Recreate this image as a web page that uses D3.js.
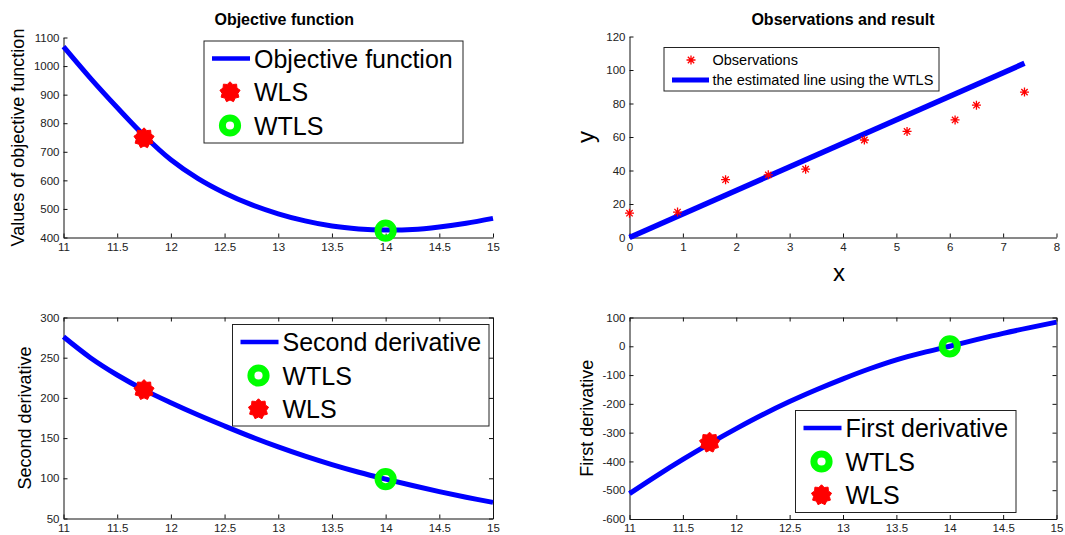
<!DOCTYPE html>
<html>
<head>
    <meta charset="utf-8">
    <title>WLS vs WTLS</title>
    <script src="https://d3js.org/d3.v7.min.js"></script>
    <style>
        body { margin: 0; background: #fff; }
        svg { font-family: "Liberation Sans", Arial, sans-serif; }
        .tick text { fill: #222; font-size: 11.5px; }
        .tick line, .domain { stroke: #111; }
    </style>
</head>
<body>
    <svg id="fig" width="1065" height="535"></svg>

    <script>
        // parameter values on the x axis of the three function plots
        const params = [11, 11.25, 11.5, 11.75, 12, 12.25, 12.5, 12.75, 13, 13.25, 13.5, 13.75, 14, 14.25, 14.5, 14.75, 15];
        const objective = [1068, 958, 855, 757, 672, 607, 556, 515, 483, 458, 440, 430, 426, 428, 437, 450, 467];
        const secondDeriv = [276, 250, 228.5, 210, 194, 179, 165, 151.5, 139, 127.5, 117, 107.5, 99, 91, 83.5, 76.5, 70];
        const firstDeriv = [-512, -451, -393, -338, -286, -237, -192, -151, -113, -78, -47, -22, 0, 23, 45, 65, 84];

        // estimates marked on each curve
        const wlsParam = 11.75, wtlsParam = 14;
        const wlsValues = { objective: 748, second: 210, first: -334 };
        const wtlsValues = { objective: 424, second: 99, first: 0 };

        // observations and the fitted WTLS line
        const obsX = [0, 0.9, 1.8, 2.6, 3.3, 4.4, 5.2, 6.1, 6.5, 7.4];
        const obsY = [14.5, 15.2, 34.5, 37.4, 40.8, 58.2, 63.3, 70.2, 79, 86.8];
        const fitX = [0, 7.4];
        const fitY = [0, 104];

        // tick labels
        const paramTicks = [11, 11.5, 12, 12.5, 13, 13.5, 14, 14.5, 15];
        const objTicks = [400, 500, 600, 700, 800, 900, 1000, 1100];
        const obsXTicks = [0, 1, 2, 3, 4, 5, 6, 7, 8];
        const obsYTicks = [0, 20, 40, 60, 80, 100, 120];
        const secondTicks = [50, 100, 150, 200, 250, 300];
        const firstTicks = [-600, -500, -400, -300, -200, -100, 0, 100];

        const svg = d3.select("#fig");
        const blue = "#0000ff", red = "#ff0000", green = "#00ff00";
        const fmt = d => String(d); // plain "-" and no thousands comma, like matlab

        // serrated star, roughly what matlab's hexagram looks like at this size
        const gear = {
            draw(ctx, size) {
                const r = Math.sqrt(size / Math.PI), n = 9;
                for (let i = 0; i < 2 * n; i++) {
                    const a = i * Math.PI / n - Math.PI / 2;
                    const rr = i % 2 ? r * 0.78 : r;
                    if (i === 0) ctx.moveTo(rr * Math.cos(a), rr * Math.sin(a));
                    else ctx.lineTo(rr * Math.cos(a), rr * Math.sin(a));
                }
                ctx.closePath();
            }
        };

        function drawWls(g, x, y) {
            g.append("path")
                .attr("transform", `translate(${x},${y})`)
                .attr("d", d3.symbol(gear, 330)())
                .attr("fill", red).attr("stroke", red).attr("stroke-width", 1);
        }
        function drawWtls(g, x, y) {
            g.append("circle")
                .attr("cx", x).attr("cy", y).attr("r", 7.6)
                .attr("fill", "none").attr("stroke", green).attr("stroke-width", 7);
        }
        function drawStar(g, x, y, r) {
            const p = d3.path();
            for (let k = 0; k < 4; k++) {
                const a = k * Math.PI / 4;
                p.moveTo(x - r * Math.cos(a), y - r * Math.sin(a));
                p.lineTo(x + r * Math.cos(a), y + r * Math.sin(a));
            }
            g.append("path").attr("d", p.toString()).attr("stroke", red).attr("stroke-width", 1.3);
        }

        function axes(g, x, y, xt, yt, box) {
            const [x0, x1] = x.range(), [y0, y1] = y.range();
            g.append("g").attr("transform", `translate(0,${y0})`)
                .call(d3.axisBottom(x).tickValues(xt).tickFormat(fmt).tickSize(-4).tickSizeOuter(0).tickPadding(5));
            g.append("g").attr("transform", `translate(${x0},0)`)
                .call(d3.axisLeft(y).tickValues(yt).tickFormat(fmt).tickSize(-4).tickSizeOuter(0).tickPadding(4));
            if (box) {
                g.append("g").attr("transform", `translate(0,${y1})`)
                    .call(d3.axisTop(x).tickValues(xt).tickSize(-4).tickSizeOuter(0).tickFormat(""));
                g.append("g").attr("transform", `translate(${x1},0)`)
                    .call(d3.axisRight(y).tickValues(yt).tickSize(-4).tickSizeOuter(0).tickFormat(""));
            }
        }

        function legend(g, box, rows) {
            g.append("rect")
                .attr("x", box.x).attr("y", box.y).attr("width", box.w).attr("height", box.h)
                .attr("fill", "#fff").attr("stroke", "#222").attr("stroke-width", 1);
            rows.forEach((r, i) => {
                const cy = box.y + box.top + i * box.step;
                if (r.kind === "line") {
                    g.append("line").attr("x1", box.x + box.lx0).attr("x2", box.x + box.lx1)
                        .attr("y1", cy).attr("y2", cy).attr("stroke", blue).attr("stroke-width", box.lw);
                } else if (r.kind === "wls") {
                    drawWls(g, box.x + box.mx, cy);
                } else if (r.kind === "wtls") {
                    drawWtls(g, box.x + box.mx, cy);
                } else {
                    drawStar(g, box.x + box.mx, cy, 4.5);
                }
                g.append("text").attr("x", box.x + box.tx).attr("y", cy).attr("dy", "0.36em")
                    .attr("font-size", box.fs).attr("fill", "#000").text(r.label);
            });
        }

        function yLabel(g, x, cy, txt, fs) {
            g.append("text").attr("transform", `translate(${x},${cy}) rotate(-90)`)
                .attr("text-anchor", "middle").attr("font-size", fs).attr("fill", "#000").text(txt);
        }
        function title(g, cx, y, txt) {
            g.append("text").attr("x", cx).attr("y", y).attr("text-anchor", "middle")
                .attr("font-size", 16).attr("font-weight", "bold").attr("fill", "#000").text(txt);
        }

        // ---- function panels ----
        function curvePanel(rect, yDomain, yt, values, wlsY, wtlsY, opts) {
            const g = svg.append("g");
            const x = d3.scaleLinear().domain([11, 15]).range([rect.x0, rect.x1]);
            const y = d3.scaleLinear().domain(yDomain).range([rect.y1, rect.y0]);
            axes(g, x, y, paramTicks, yt, opts.box);

            const line = d3.line().x((d, i) => x(params[i])).y(d => y(d)).curve(d3.curveCatmullRom);
            g.append("path").datum(values).attr("d", line)
                .attr("fill", "none").attr("stroke", blue).attr("stroke-width", 5);

            drawWls(g, x(wlsParam), y(wlsY));
            drawWtls(g, x(wtlsParam), y(wtlsY));

            legend(g, opts.legend, opts.rows);
            yLabel(g, opts.labelX, (rect.y0 + rect.y1) / 2, opts.ylabel, 18);
            if (opts.title) title(g, (rect.x0 + rect.x1) / 2 + 6, 25, opts.title);
        }

        const legendStyle = { top: 17.5, step: 33.5, lx0: 8, lx1: 46, lw: 4.5, mx: 26, tx: 50, fs: 25 };

        curvePanel({ x0: 63.5, x1: 493, y0: 37.5, y1: 237.5 }, [400, 1100], objTicks, objective,
            wlsValues.objective, wtlsValues.objective, {
                box: false, title: "Objective function", ylabel: "Values of objective function", labelX: 24,
                legend: Object.assign({ x: 204, y: 41, w: 259, h: 102 }, legendStyle),
                rows: [{ kind: "line", label: "Objective function" }, { kind: "wls", label: "WLS" }, { kind: "wtls", label: "WTLS" }]
            });

        curvePanel({ x0: 63.5, x1: 493, y0: 317.5, y1: 518.5 }, [50, 300], secondTicks, secondDeriv,
            wlsValues.second, wtlsValues.second, {
                box: true, ylabel: "Second derivative", labelX: 31,
                legend: Object.assign({ x: 232.5, y: 324.5, w: 256.5, h: 101.5 }, legendStyle),
                rows: [{ kind: "line", label: "Second derivative" }, { kind: "wtls", label: "WTLS" }, { kind: "wls", label: "WLS" }]
            });

        curvePanel({ x0: 629.5, x1: 1056.5, y0: 317.5, y1: 519 }, [-600, 100], firstTicks, firstDeriv,
            wlsValues.first, wtlsValues.first, {
                box: true, ylabel: "First derivative", labelX: 593,
                legend: Object.assign({ x: 795.5, y: 410.5, w: 220.5, h: 102 }, legendStyle),
                rows: [{ kind: "line", label: "First derivative" }, { kind: "wtls", label: "WTLS" }, { kind: "wls", label: "WLS" }]
            });

        // ---- observations panel ----
        {
            const g = svg.append("g");
            const x = d3.scaleLinear().domain([0, 8]).range([629.5, 1056.5]);
            const y = d3.scaleLinear().domain([0, 120]).range([237.5, 36.5]);
            axes(g, x, y, obsXTicks, obsYTicks, false);

            g.append("path").datum(fitX.map((d, i) => [d, fitY[i]]))
                .attr("d", d3.line().x(d => x(d[0])).y(d => y(d[1])))
                .attr("stroke", blue).attr("stroke-width", 5.5).attr("fill", "none");
            obsX.forEach((d, i) => drawStar(g, x(d), y(obsY[i]), 4.5));

            legend(g, { x: 664, y: 47.5, w: 275, h: 43.5, top: 12.5, step: 20, lx0: 8, lx1: 45, lw: 5, mx: 27, tx: 48.5, fs: 14.5 },
                [{ kind: "obs", label: "Observations" }, { kind: "line", label: "the estimated line using the WTLS" }]);

            title(g, 843, 25, "Observations and result");
            g.append("text").attr("x", 839).attr("y", 281).attr("text-anchor", "middle")
                .attr("font-size", 24).attr("fill", "#000").text("x");
            yLabel(g, 594, 137, "y", 24);
        }
    </script>
</body>
</html>
